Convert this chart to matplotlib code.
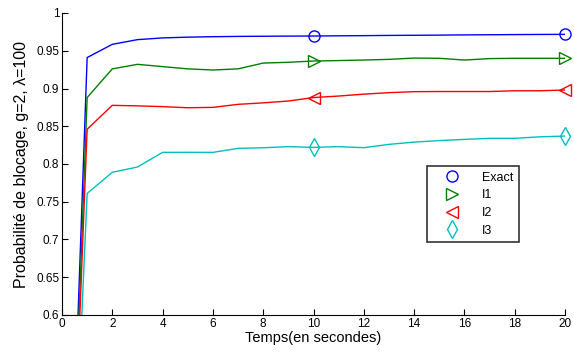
import numpy as np
import matplotlib
matplotlib.use("Agg")
import matplotlib.pyplot as plt

plt.rcParams['font.family'] = ['Liberation Sans', 'DejaVu Sans']

# Temps (s)
t = np.arange(0, 21)

exact = [0.0, 0.941, 0.9585, 0.9647, 0.967, 0.968, 0.9686, 0.969, 0.9692, 0.9694, 0.9695,
         0.9698, 0.970, 0.9703, 0.9705, 0.9707, 0.971, 0.9712, 0.9714, 0.9716, 0.9717]
i1 = [0.0, 0.888, 0.926, 0.932, 0.929, 0.926, 0.9245, 0.926, 0.9337, 0.9347, 0.9364,
      0.937, 0.9377, 0.9386, 0.9403, 0.940, 0.9377, 0.9396, 0.940, 0.940, 0.940]
i2 = [0.0, 0.846, 0.8777, 0.877, 0.876, 0.8745, 0.875, 0.879, 0.881, 0.8834, 0.888,
      0.890, 0.8925, 0.8945, 0.8958, 0.896, 0.896, 0.896, 0.897, 0.897, 0.898]
i3 = [0.0, 0.761, 0.789, 0.796, 0.8154, 0.8155, 0.8154, 0.8207, 0.8215, 0.823, 0.822,
      0.823, 0.8216, 0.826, 0.829, 0.831, 0.8326, 0.834, 0.834, 0.836, 0.837]

series = [
    (exact, 'Exact', '#0000ff', 'o', 8),
    (i1, 'I1', '#008000', '>', 8),
    (i2, 'I2', '#ff0000', '<', 8),
    (i3, 'I3', '#00bfbf', 'd', 9),
]

fig = plt.figure(figsize=(5.74, 3.59), dpi=100)
ax = fig.add_axes([62 / 574, 1 - 315 / 359, 503 / 574, 302 / 359])

for vals, name, col, mk, ms in series:
    ax.plot(t, vals, color=col, lw=1.0)
    ax.plot(t, vals, ls='none', marker=mk, markevery=[10, 20], ms=ms,
            mfc='none', mec=col, mew=1.0, label=name, clip_on=False)

ax.set_xlim(0, 20)
ax.set_ylim(0.6, 1.0)
ax.set_xticks(np.arange(0, 21, 2))
ax.set_yticks(np.arange(0.6, 1.001, 0.05))
ax.set_yticklabels(['0.6', '0.65', '0.7', '0.75', '0.8', '0.85', '0.9', '0.95', '1'])
ax.tick_params(direction='in', labelsize=8.5, length=4, width=0.8, pad=2)
ax.spines['top'].set_visible(False)
ax.spines['right'].set_visible(False)

ax.set_xlabel('Temps(en secondes)', fontsize=10.5, labelpad=1)
ax.set_ylabel('Probabilité de blocage, g=2, λ=100', fontsize=11.5, labelpad=5)

leg = ax.legend(loc='upper left', bbox_to_anchor=(0.726, 0.493), fontsize=9,
                frameon=True, fancybox=False, edgecolor='black', handletextpad=0.9,
                borderpad=0.45, borderaxespad=0, labelspacing=0.45, handlelength=3.0,
                markerscale=1.0)
leg.get_frame().set_linewidth(1.2)

fig.savefig('out.png', dpi=100)
